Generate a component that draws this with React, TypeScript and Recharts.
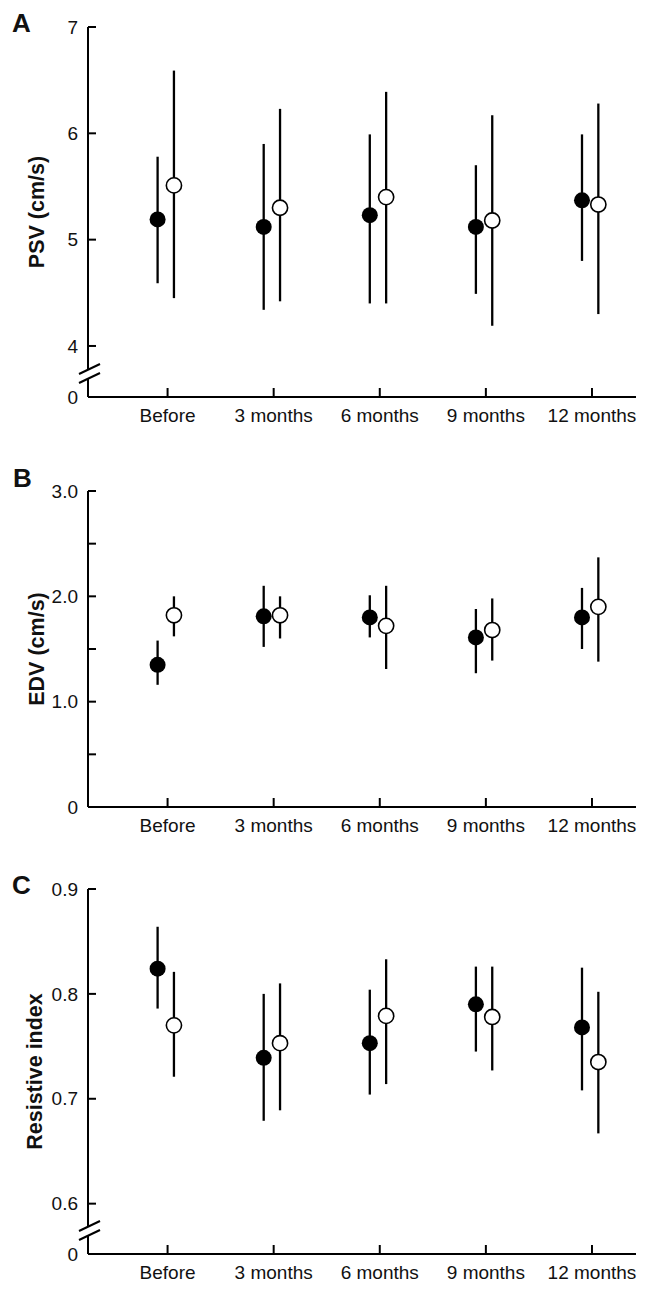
import { ScatterChart, Scatter, XAxis, YAxis, ErrorBar } from "recharts";

const categories = ["Before", "3 months", "6 months", "9 months", "12 months"];
const catTicks = [1, 2, 3, 4, 5];

// Panel A - PSV (cm/s)
const psvFilledMean = [5.19, 5.12, 5.23, 5.12, 5.37];
const psvFilledLow = [4.59, 4.34, 4.4, 4.49, 4.8];
const psvFilledHigh = [5.78, 5.9, 5.99, 5.7, 5.99];
const psvOpenMean = [5.51, 5.3, 5.4, 5.18, 5.33];
const psvOpenLow = [4.45, 4.42, 4.4, 4.19, 4.3];
const psvOpenHigh = [6.59, 6.23, 6.39, 6.17, 6.28];

// Panel B - EDV (cm/s)
const edvFilledMean = [1.35, 1.81, 1.8, 1.61, 1.8];
const edvFilledLow = [1.16, 1.52, 1.61, 1.27, 1.5];
const edvFilledHigh = [1.58, 2.1, 2.01, 1.88, 2.08];
const edvOpenMean = [1.82, 1.82, 1.72, 1.68, 1.9];
const edvOpenLow = [1.62, 1.6, 1.31, 1.39, 1.38];
const edvOpenHigh = [2.0, 2.0, 2.1, 1.98, 2.37];

// Panel C - Resistive index
const riFilledMean = [0.824, 0.739, 0.753, 0.79, 0.768];
const riFilledLow = [0.786, 0.679, 0.704, 0.745, 0.708];
const riFilledHigh = [0.864, 0.8, 0.804, 0.826, 0.825];
const riOpenMean = [0.77, 0.753, 0.779, 0.778, 0.735];
const riOpenLow = [0.721, 0.689, 0.714, 0.727, 0.667];
const riOpenHigh = [0.821, 0.81, 0.833, 0.826, 0.802];

const psvTicks = [3.52, 4, 5, 6, 7];
const edvTicks = [0, 0.5, 1, 1.5, 2, 2.5, 3];
const riTicks = [0.552, 0.6, 0.7, 0.8, 0.9];

const FONT = "'Liberation Sans', Arial, Helvetica, sans-serif";
const TICK_IN = 8;
const Y_TICK_MARGIN = 18;
const FILLED_SHIFT = -0.094;
const OPEN_SHIFT = 0.06;

const toPoints = (mean: number[], low: number[], high: number[], shift: number) =>
  mean.map((m, i) => ({ x: catTicks[i] + shift, y: m, err: [m - low[i], high[i] - m] }));

const FilledDot = (p: any) => <circle cx={p.cx} cy={p.cy} r={8} fill="#000" />;
const OpenDot = (p: any) => (
  <circle cx={p.cx} cy={p.cy} r={7.6} fill="#fff" stroke="#000" strokeWidth={1.6} />
);

const YTick = (props: any) => {
  const { x, y, payload, fmt, brk, minVal } = props;
  const axisX = x + Y_TICK_MARGIN - TICK_IN;
  const isBase = brk && Math.abs(payload.value - minVal) < 1e-9;
  return (
    <g>
      {isBase && (
        <g>
          <rect x={axisX - 3} y={y - 27} width={6} height={9} fill="#fff" />
          <line x1={axisX - 9} y1={y - 23} x2={axisX + 12} y2={y - 33} stroke="#000" strokeWidth={2} />
          <line x1={axisX - 9} y1={y - 14} x2={axisX + 12} y2={y - 24} stroke="#000" strokeWidth={2} />
        </g>
      )}
      <text x={x} y={y} dy="0.35em" textAnchor="end" fontSize={19} fill="#111" fontFamily={FONT}>
        {fmt(payload.value)}
      </text>
    </g>
  );
};

type PanelProps = {
  top: number;
  height: number;
  marginTop: number;
  marginBottom: number;
  xAxisHeight: number;
  domain: [number, number];
  ticks: number[];
  fmt: (v: number) => string;
  brk: boolean;
  yLabel: string;
  labelOffset: number;
  filled: any[];
  open: any[];
};

function Panel(p: PanelProps) {
  return (
    <div style={{ position: "absolute", left: 0, top: p.top }}>
      <ScatterChart
        width={654}
        height={p.height}
        margin={{ top: p.marginTop, right: 18, bottom: p.marginBottom, left: 0 }}
      >
        <XAxis
          type="number"
          dataKey="x"
          domain={[0.25, 5.415]}
          allowDataOverflow
          ticks={catTicks}
          interval={0}
          tickFormatter={(v: number) => categories[v - 1] ?? ""}
          height={p.xAxisHeight}
          axisLine={{ stroke: "#000", strokeWidth: 2 }}
          tickLine={{ stroke: "#000", strokeWidth: 2 }}
          tickSize={-9}
          tickMargin={20.5}
          tick={{ fontSize: 19, fill: "#111", fontFamily: FONT }}
        />
        <YAxis
          type="number"
          dataKey="y"
          width={88}
          domain={p.domain}
          allowDataOverflow
          ticks={p.ticks}
          interval={0}
          axisLine={{ stroke: "#000", strokeWidth: 2 }}
          tickLine={{ stroke: "#000", strokeWidth: 2 }}
          tickSize={-TICK_IN}
          tickMargin={Y_TICK_MARGIN}
          tick={(t: any) => <YTick {...t} fmt={p.fmt} brk={p.brk} minVal={p.domain[0]} />}
          label={{
            value: p.yLabel,
            angle: -90,
            position: "insideLeft",
            offset: p.labelOffset,
            style: {
              textAnchor: "middle",
              fontSize: 21.5,
              fontWeight: "bold",
              fill: "#111",
              fontFamily: FONT,
            },
          }}
        />
        <Scatter data={p.filled} shape={FilledDot} isAnimationActive={false}>
          <ErrorBar dataKey="err" direction="y" width={0} stroke="#000" strokeWidth={2.3} isAnimationActive={false} />
        </Scatter>
        <Scatter data={p.open} shape={OpenDot} isAnimationActive={false}>
          <ErrorBar dataKey="err" direction="y" width={0} stroke="#000" strokeWidth={2.3} isAnimationActive={false} />
        </Scatter>
      </ScatterChart>
    </div>
  );
}

export default function App() {
  return (
    <div
      style={{
        position: "absolute",
        left: 0,
        top: 0,
        width: 654,
        height: 1293,
        background: "#fff",
        overflow: "hidden",
      }}
    >
      <Panel
        top={0}
        height={450}
        marginTop={27}
        marginBottom={13}
        xAxisHeight={40}
        domain={[3.52, 7]}
        ticks={psvTicks}
        fmt={(v) => (v < 3.9 ? "0" : String(v))}
        brk
        yLabel="PSV (cm/s)"
        labelOffset={36}
        filled={toPoints(psvFilledMean, psvFilledLow, psvFilledHigh, FILLED_SHIFT)}
        open={toPoints(psvOpenMean, psvOpenLow, psvOpenHigh, OPEN_SHIFT)}
      />
      <Panel
        top={450}
        height={410}
        marginTop={41}
        marginBottom={13}
        xAxisHeight={40}
        domain={[0, 3]}
        ticks={edvTicks}
        fmt={(v) => (v === 0 ? "0" : Number.isInteger(v) ? v.toFixed(1) : "")}
        brk={false}
        yLabel="EDV (cm/s)"
        labelOffset={36}
        filled={toPoints(edvFilledMean, edvFilledLow, edvFilledHigh, FILLED_SHIFT)}
        open={toPoints(edvOpenMean, edvOpenLow, edvOpenHigh, OPEN_SHIFT)}
      />
      <Panel
        top={860}
        height={433}
        marginTop={29}
        marginBottom={0}
        xAxisHeight={39}
        domain={[0.552, 0.9]}
        ticks={riTicks}
        fmt={(v) => (v < 0.58 ? "0" : v.toFixed(1))}
        brk
        yLabel="Resistive index"
        labelOffset={34.5}
        filled={toPoints(riFilledMean, riFilledLow, riFilledHigh, FILLED_SHIFT)}
        open={toPoints(riOpenMean, riOpenLow, riOpenHigh, OPEN_SHIFT)}
      />
      <svg
        width={654}
        height={1293}
        style={{ position: "absolute", left: 0, top: 0, pointerEvents: "none" }}
      >
        <text x={12} y={32} fontSize={26} fontWeight="bold" fill="#111" fontFamily={FONT}>
          A
        </text>
        <text x={13} y={486.5} fontSize={26} fontWeight="bold" fill="#111" fontFamily={FONT}>
          B
        </text>
        <text x={12} y={893.5} fontSize={26} fontWeight="bold" fill="#111" fontFamily={FONT}>
          C
        </text>
      </svg>
    </div>
  );
}
